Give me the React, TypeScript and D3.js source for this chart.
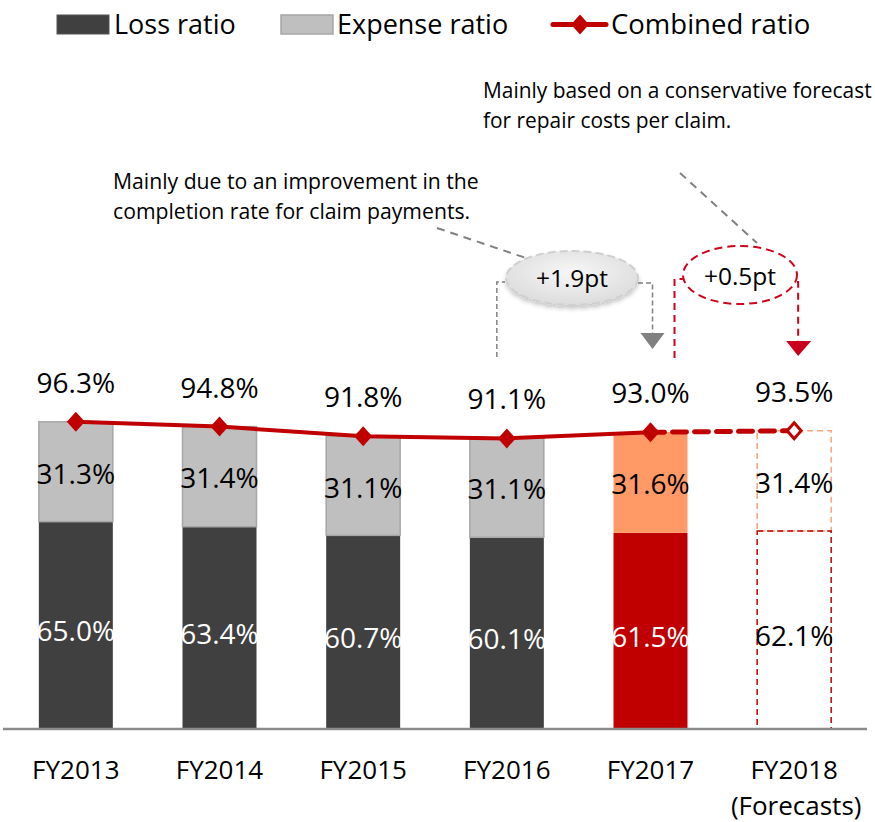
import React from "react";
import * as d3 from "d3";

const categories = ["FY2013", "FY2014", "FY2015", "FY2016", "FY2017", "FY2018"];
const subLabels = ["", "", "", "", "", "(Forecasts)"];
const lossRatio = [65.0, 63.4, 60.7, 60.1, 61.5, 62.1];
const expenseRatio = [31.3, 31.4, 31.1, 31.1, 31.6, 31.4];
const combinedRatio = [96.3, 94.8, 91.8, 91.1, 93.0, 93.5];
const legendLabels = ["Loss ratio", "Expense ratio", "Combined ratio"];
const noteLeft = ["Mainly due to an improvement in the", "completion rate for claim payments."];
const noteRight = ["Mainly based on a conservative forecast", "for repair costs per claim."];
const deltaLabels = ["+1.9pt", "+0.5pt"];

const W = 875;
const H = 822;
const FONT = "'Open Sans', 'Noto Sans', sans-serif";
const RED = "#C00000";
const DARK = "#404040";
const LIGHT = "#BFBFBF";
const ORANGE = "#FF9966";

const diamond = (r: number) => `M0,${-r - 1}L${r},0L0,${r + 1}L${-r},0Z`;

export default function App() {
  const x = d3.scaleBand<string>().domain(categories).range([4, 866]).paddingInner(0.485).paddingOuter(0.2425);
  const y = d3.scaleLinear().domain([0, 100]).range([729, 410]);
  const bw = x.bandwidth();
  const cx = (i: number) => (x(categories[i]) as number) + bw / 2;
  const nFc = categories.length - 1; // forecast index
  const nAct = categories.length - 2;

  const line = d3.line<number>().x((_, i) => cx(i)).y((d) => y(d));
  const solidPts = combinedRatio.slice(0, nFc);

  return (
    <svg width={W} height={H} style={{ position: "absolute", left: 0, top: 0, display: "block" }} fontFamily={FONT}>
      <defs>
        <radialGradient id="bub" cx="50%" cy="40%" r="60%">
          <stop offset="0%" stopColor="#f7f7f7" />
          <stop offset="100%" stopColor="#dcdcdc" />
        </radialGradient>
        <filter id="sh" x="-20%" y="-20%" width="140%" height="160%">
          <feDropShadow dx="0" dy="3" stdDeviation="2" floodColor="#000" floodOpacity="0.22" />
        </filter>
      </defs>

      {/* Legend */}
      <g>
        <rect x={57} y={15} width={52} height={19} fill={DARK} stroke="#555" strokeWidth={1} />
        <text x={114} y={34} fontSize={27} fill="#000">{legendLabels[0]}</text>
        <rect x={281} y={15} width={52} height={19} fill={LIGHT} stroke="#A6A6A6" strokeWidth={1.5} />
        <text x={337} y={34} fontSize={27} fill="#000">{legendLabels[1]}</text>
        <line x1={553} x2={606} y1={24.5} y2={24.5} stroke={RED} strokeWidth={5} strokeLinecap="round" />
        <path d={diamond(9)} transform="translate(580,24.5)" fill={RED} />
        <text x={611} y={34} fontSize={27.5} fill="#000">{legendLabels[2]}</text>
      </g>

      {/* Notes */}
      {noteRight.map((t, i) => (
        <text key={"nr" + i} x={483} y={98 + i * 30} fontSize={20.9} fill="#000">{t}</text>
      ))}
      {noteLeft.map((t, i) => (
        <text key={"nl" + i} x={113} y={189 + i * 30} fontSize={21.2} fill="#000">{t}</text>
      ))}
      <line x1={437} y1={228} x2={526} y2={258} stroke="#808080" strokeWidth={2} strokeDasharray="8,6" />
      <line x1={680} y1={173} x2={757} y2={243} stroke="#808080" strokeWidth={2} strokeDasharray="8,6" />

      {/* Connector 1 (gray) */}
      <path d={`M${cx(3) - 10},357V282H505`} fill="none" stroke="#808080" strokeWidth={1.5} strokeDasharray="5,3" />
      <path d={`M638,283H${cx(4) + 2}V333`} fill="none" stroke="#808080" strokeWidth={1.5} strokeDasharray="5,3" />
      <path d={`M${cx(4) - 10},333H${cx(4) + 14}L${cx(4) + 2},349Z`} fill="#808080" />
      <ellipse cx={572} cy={278} rx={66} ry={27} fill="url(#bub)" stroke="#cfcfcf" strokeWidth={2} strokeDasharray="8,4" filter="url(#sh)" />
      <text x={572} y={278} dy="0.35em" textAnchor="middle" fontSize={24.5} fill="#000">{deltaLabels[0]}</text>

      {/* Connector 2 (red) */}
      <path d={`M${cx(4) + 24},358V279H684`} fill="none" stroke="#D0021B" strokeWidth={2} strokeDasharray="7,5" />
      <path d={`M797,282H${cx(5) + 4}V341`} fill="none" stroke="#D0021B" strokeWidth={2} strokeDasharray="7,5" />
      <path d={`M${cx(5) - 8},341H${cx(5) + 17}L${cx(5) + 4},356Z`} fill="#C8001E" />
      <ellipse cx={740} cy={275} rx={57} ry={29} fill="#fff" stroke="#D0021B" strokeWidth={2} strokeDasharray="8,5" />
      <text x={740} y={276} dy="0.35em" textAnchor="middle" fontSize={24.5} fill="#000">{deltaLabels[1]}</text>

      {/* Bars */}
      {categories.map((c, i) => {
        const x0 = x(c) as number;
        const yLossTop = y(lossRatio[i]);
        const yExpTop = y(lossRatio[i] + expenseRatio[i]);
        const base = y(0);
        if (i === nFc) {
          return (
            <g key={c}>
              <rect x={x0} y={yExpTop} width={bw} height={yLossTop - yExpTop} fill="none" stroke="#F9A27A" strokeWidth={1.5} strokeDasharray="6,4" />
              <rect x={x0} y={yLossTop} width={bw} height={base - yLossTop} fill="none" stroke={RED} strokeWidth={1.5} strokeDasharray="6,4" />
            </g>
          );
        }
        const isCur = i === nAct;
        return (
          <g key={c}>
            <rect x={x0} y={yLossTop} width={bw} height={base - yLossTop} fill={isCur ? RED : DARK} />
            <rect x={x0} y={yExpTop} width={bw} height={yLossTop - yExpTop} fill={isCur ? ORANGE : LIGHT} stroke={isCur ? "none" : "#A6A6A6"} strokeWidth={1.5} />
          </g>
        );
      })}

      {/* Axis line */}
      <line x1={3} x2={867} y1={y(0)} y2={y(0)} stroke="#8C8C8C" strokeWidth={2.5} />

      {/* Bar labels */}
      {categories.map((c, i) => {
        const yLossTop = y(lossRatio[i]);
        const yExpTop = y(lossRatio[i] + expenseRatio[i]);
        return (
          <g key={"lb" + c} fontSize={28} textAnchor="middle">
            <text x={cx(i)} y={(yExpTop + yLossTop) / 2 + 2} dy="0.35em" fill="#000">{expenseRatio[i].toFixed(1)}%</text>
            <text x={cx(i)} y={(yLossTop + y(0)) / 2 + 6} dy="0.35em" fill={i === nFc ? "#000" : "#fff"}>{lossRatio[i].toFixed(1)}%</text>
            <text x={cx(i)} y={y(combinedRatio[i]) - 29} fill="#000">{combinedRatio[i].toFixed(1)}%</text>
          </g>
        );
      })}

      {/* Combined ratio line */}
      <path d={line(solidPts) as string} fill="none" stroke={RED} strokeWidth={4} />
      <line x1={cx(nAct)} y1={y(combinedRatio[nAct])} x2={cx(nFc)} y2={y(combinedRatio[nFc])} stroke={RED} strokeWidth={5} strokeDasharray="14,8" strokeLinecap="round" />
      {solidPts.map((v, i) => (
        <path key={"m" + i} d={diamond(9)} transform={`translate(${cx(i)},${y(v)})`} fill={RED} />
      ))}
      <path d={diamond(7)} transform={`translate(${cx(nFc)},${y(combinedRatio[nFc])})`} fill="#fff" stroke={RED} strokeWidth={3} />

      {/* Category labels */}
      {categories.map((c, i) => (
        <g key={"cl" + c} textAnchor="middle" fontSize={26} fill="#000">
          <text x={cx(i)} y={779}>{c}</text>
          {subLabels[i] && <text x={cx(i) + 2} y={815}>{subLabels[i]}</text>}
        </g>
      ))}
    </svg>
  );
}
